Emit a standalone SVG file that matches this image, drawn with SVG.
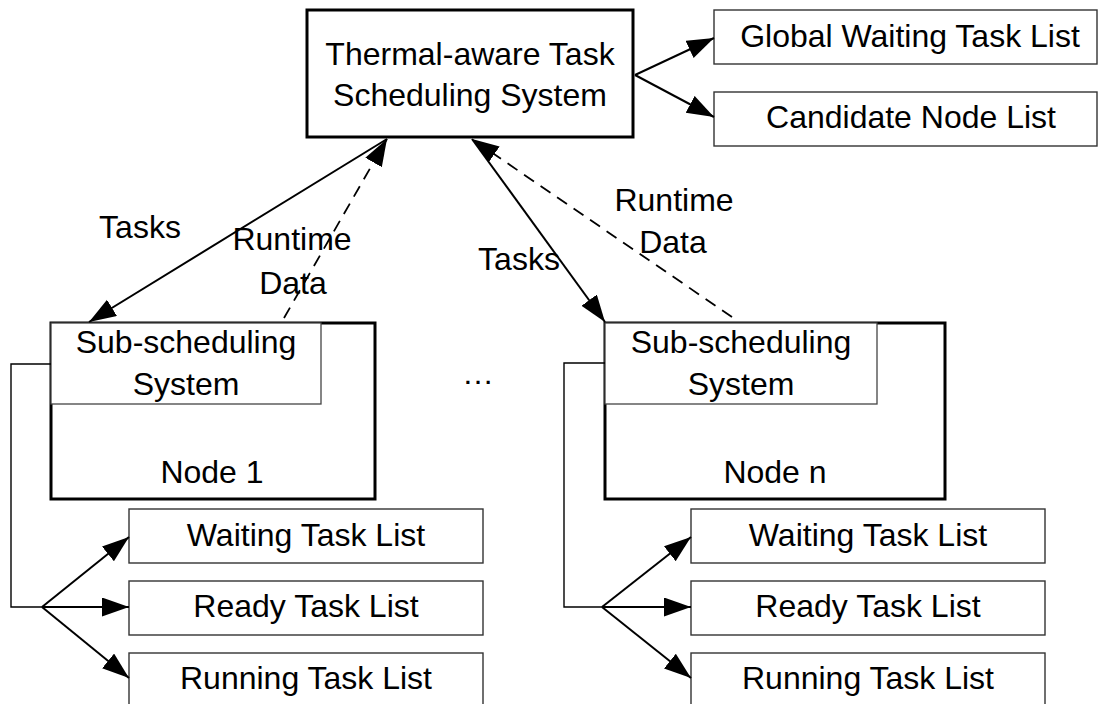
<svg xmlns="http://www.w3.org/2000/svg" width="1099" height="704" viewBox="0 0 1099 704">
<style>
text{font-family:"Liberation Sans",Arial,sans-serif;font-size:32px;fill:#000;text-anchor:middle}
.thick{fill:#fff;stroke:#000;stroke-width:3}
.list{fill:#fff;stroke:#333;stroke-width:1.4}
.inner{fill:#fff;stroke:#444;stroke-width:1.3}
.ln{fill:none;stroke:#000;stroke-width:2}
.dash{fill:none;stroke:#000;stroke-width:1.8;stroke-dasharray:12 8}
.br{fill:none;stroke:#000;stroke-width:1.4}
</style>
<defs>
<marker id="ah" markerUnits="userSpaceOnUse" markerWidth="28" markerHeight="20" refX="27" refY="9.5" orient="auto">
<path d="M0,0 L27,9.5 L0,19 z" fill="#000"/>
</marker>
</defs>
<g id="top-system">
<rect class="thick" x="307" y="10" width="326" height="127"/>
<text x="470" y="65">Thermal-aware Task</text>
<text x="470" y="106">Scheduling System</text>
</g>
<g id="global-waiting">
<rect class="list" x="714" y="10" width="383" height="54"/>
<text x="910" y="47">Global Waiting Task List</text>
</g>
<g id="candidate-node">
<rect class="list" x="714" y="92" width="383" height="54"/>
<text x="911" y="128">Candidate Node List</text>
</g>
<g id="node1">
<rect class="thick" x="51" y="323" width="324" height="176"/>
<rect class="inner" x="51" y="323" width="270" height="81"/>
<text x="186" y="353">Sub-scheduling</text>
<text x="186" y="395">System</text>
<text x="212" y="483">Node 1</text>
</g>
<g id="noden">
<rect class="thick" x="605" y="323" width="340" height="176"/>
<rect class="inner" x="605" y="323" width="272" height="81"/>
<text x="741" y="353">Sub-scheduling</text>
<text x="741" y="395">System</text>
<text x="775" y="483">Node n</text>
</g>
<g id="ellipsis">
<text x="478" y="384">…</text>
</g>
<g id="node1-waiting"><rect class="list" x="129" y="509" width="354" height="54"/><text x="306" y="546">Waiting Task List</text></g>
<g id="node1-ready"><rect class="list" x="129" y="581" width="354" height="54"/><text x="306" y="617">Ready Task List</text></g>
<g id="node1-running"><rect class="list" x="129" y="653" width="354" height="56"/><text x="306" y="689">Running Task List</text></g>
<g id="noden-waiting"><rect class="list" x="691" y="509" width="354" height="54"/><text x="868" y="546">Waiting Task List</text></g>
<g id="noden-ready"><rect class="list" x="691" y="581" width="354" height="54"/><text x="868" y="617">Ready Task List</text></g>
<g id="noden-running"><rect class="list" x="691" y="653" width="354" height="56"/><text x="868" y="689">Running Task List</text></g>
<g id="connectors">
<line class="ln" x1="635" y1="75" x2="714" y2="38" marker-end="url(#ah)"/>
<line class="ln" x1="635" y1="75" x2="714" y2="117" marker-end="url(#ah)"/>
<line class="ln" x1="387" y1="139" x2="89" y2="322" marker-end="url(#ah)"/>
<line class="dash" x1="284" y1="318" x2="387" y2="139" marker-end="url(#ah)"/>
<line class="ln" x1="472" y1="139" x2="605" y2="322" marker-end="url(#ah)"/>
<line class="dash" x1="732" y1="317" x2="472" y2="139" marker-end="url(#ah)"/>
<polyline class="br" points="51,364 11,364 11,607 42,607"/>
<line class="ln" x1="42" y1="607" x2="129" y2="537" marker-end="url(#ah)"/>
<line class="ln" x1="42" y1="607" x2="129" y2="607" marker-end="url(#ah)"/>
<line class="ln" x1="42" y1="607" x2="129" y2="678" marker-end="url(#ah)"/>
<polyline class="br" points="605,363 564,363 564,607 602,607"/>
<line class="ln" x1="602" y1="607" x2="691" y2="537" marker-end="url(#ah)"/>
<line class="ln" x1="602" y1="607" x2="691" y2="607" marker-end="url(#ah)"/>
<line class="ln" x1="602" y1="607" x2="691" y2="678" marker-end="url(#ah)"/>
<text x="140" y="238">Tasks</text>
<text x="292" y="250">Runtime</text>
<text x="293" y="294">Data</text>
<text x="519" y="270">Tasks</text>
<text x="674" y="211">Runtime</text>
<text x="673" y="253">Data</text>
</g>
</svg>
